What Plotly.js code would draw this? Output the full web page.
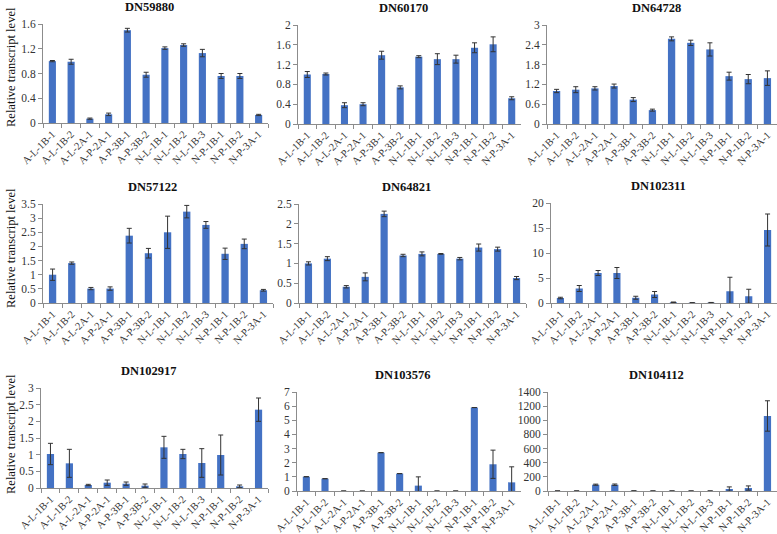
<!DOCTYPE html>
<html>
<head>
<meta charset="utf-8">
<script src="https://cdn.plot.ly/plotly-3.0.1.min.js"></script>
<style>html,body{margin:0;padding:0;background:#fff;}#chart{width:777px;height:534px;}</style>
</head>
<body>
<div id="chart"></div>
<script>
const categories = ["A-L-1B-1","A-L-1B-2","A-L-2A-1","A-P-2A-1","A-P-3B-1","A-P-3B-2","N-L-1B-1","N-L-1B-2","N-L-1B-3","N-P-1B-1","N-P-1B-2","N-P-3A-1"];

const geneNames = ["DN59880","DN60170","DN64728","DN57122","DN64821","DN102311","DN102917","DN103576","DN104112"];

const dn59880 = [1.00, 0.99, 0.07, 0.14, 1.50, 0.78, 1.21, 1.26, 1.13, 0.76, 0.76, 0.13];
const dn59880Err = [0.01, 0.04, 0.01, 0.02, 0.03, 0.04, 0.02, 0.02, 0.06, 0.04, 0.04, 0.01];

const dn60170 = [1.00, 1.01, 0.38, 0.40, 1.39, 0.74, 1.36, 1.31, 1.31, 1.54, 1.61, 0.52];
const dn60170Err = [0.06, 0.02, 0.05, 0.03, 0.08, 0.03, 0.02, 0.11, 0.08, 0.10, 0.15, 0.03];

const dn64728 = [1.00, 1.04, 1.08, 1.15, 0.74, 0.42, 2.58, 2.46, 2.26, 1.45, 1.36, 1.39];
const dn64728Err = [0.05, 0.09, 0.05, 0.06, 0.06, 0.03, 0.06, 0.08, 0.20, 0.12, 0.14, 0.22];

const dn57122 = [1.00, 1.41, 0.51, 0.51, 2.38, 1.76, 2.50, 3.23, 2.76, 1.74, 2.09, 0.45];
const dn57122Err = [0.20, 0.04, 0.04, 0.06, 0.26, 0.17, 0.57, 0.22, 0.12, 0.20, 0.17, 0.03];

const dn64821 = [1.00, 1.12, 0.41, 0.66, 2.25, 1.20, 1.24, 1.24, 1.12, 1.40, 1.36, 0.63];
const dn64821Err = [0.04, 0.05, 0.03, 0.10, 0.07, 0.03, 0.05, 0.01, 0.03, 0.09, 0.05, 0.04];

const dn102311 = [1.00, 2.90, 6.00, 6.00, 1.05, 1.70, 0.15, 0.05, 0.08, 2.35, 1.35, 14.6];
const dn102311Err = [0.15, 0.60, 0.50, 1.10, 0.30, 0.60, 0.05, 0.02, 0.03, 2.80, 1.40, 3.20];

const dn102917 = [1.02, 0.74, 0.09, 0.16, 0.13, 0.07, 1.22, 1.02, 0.75, 0.99, 0.05, 2.35];
const dn102917Err = [0.32, 0.42, 0.02, 0.08, 0.05, 0.05, 0.33, 0.14, 0.43, 0.60, 0.04, 0.35];

const dn103576 = [1.01, 0.87, 0, 0, 2.71, 1.23, 0.38, 0, 0, 5.90, 1.89, 0.61];
const dn103576Err = [0, 0, 0, 0, 0, 0, 0.62, 0, 0, 0, 1.00, 1.10];

const dn104112 = [1, 1, 89, 89, 2, 1, 1, 0.5, 0.5, 28, 42, 1061];
const dn104112Err = [0, 0, 8, 10, 0, 0, 0, 0, 0, 30, 30, 215];

const yRanges = [[0,1.6],[0,2],[0,3],[0,3.5],[0,2.5],[0,20],[0,3],[0,7],[0,1400]];
const yDtick = [0.4, 0.4, 0.6, 0.5, 0.5, 5, 0.5, 1, 200];

const seriesList = [dn59880, dn60170, dn64728, dn57122, dn64821, dn102311, dn102917, dn103576, dn104112];
const errList = [dn59880Err, dn60170Err, dn64728Err, dn57122Err, dn64821Err, dn102311Err, dn102917Err, dn103576Err, dn104112Err];

// panel pixel boxes [left, right, top, bottom]
const W = 777, H = 534;
const boxes = [
  [43, 268, 24, 123], [298, 521, 25, 124], [547, 777, 25, 124],
  [43, 273, 204, 303], [299, 526, 204, 303], [551, 777, 203, 303],
  [41, 268, 388, 488], [297, 521, 392, 491], [548, 777, 392, 491]
];
const yTitleCenters = [67, 248, 434];

const traces = [];
const layout = {
  width: W, height: H,
  margin: {l:0, r:0, t:0, b:0},
  paper_bgcolor: '#fff', plot_bgcolor: 'rgba(0,0,0,0)',
  showlegend: false,
  bargap: 0.62,
  font: {family: '"Liberation Serif", "Times New Roman", serif', color: '#222'},
  annotations: []
};

for (let i = 0; i < 9; i++) {
  const s = i === 0 ? '' : String(i + 1);
  traces.push({
    type: 'bar',
    x: categories,
    y: seriesList[i],
    xaxis: 'x' + s, yaxis: 'y' + s,
    marker: {color: '#4472C4', line: {width: 0}},
    error_y: {type: 'data', array: errList[i].map(v => v > 0 ? v : null), visible: true, color: '#333', thickness: 1, width: 2.5},
    hoverinfo: 'x+y'
  });
  const b = boxes[i];
  layout['xaxis' + s] = {
    domain: [b[0] / W, b[1] / W],
    anchor: 'y' + s,
    type: 'category',
    tickangle: -45,
    ticks: 'outside', ticklen: 4, tickcolor: '#8c8c8c', tickson: 'boundaries',
    showline: true, linecolor: '#8c8c8c', linewidth: 1,
    showgrid: false, zeroline: false,
    tickfont: {size: 10.5, color: '#333'},
    fixedrange: true
  };
  layout['yaxis' + s] = {
    domain: [1 - b[3] / H, 1 - b[2] / H],
    anchor: 'x' + s,
    range: yRanges[i],
    dtick: yDtick[i], tick0: 0,
    ticks: 'outside', ticklen: 4, tickcolor: '#8c8c8c',
    showline: true, linecolor: '#8c8c8c', linewidth: 1,
    showgrid: false, zeroline: false,
    tickfont: {size: 11.5, color: '#333'},
    fixedrange: true
  };
  layout.annotations.push({
    text: '<b>' + geneNames[i] + '</b>',
    xref: 'paper', yref: 'paper',
    x: ((b[0] + b[1]) / 2 - 6) / W,
    y: 1 - (b[2] - 8) / H,
    xanchor: 'center', yanchor: 'bottom',
    showarrow: false,
    font: {size: 12.5, color: '#111', family: '"Liberation Serif", "Times New Roman", serif'}
  });
  if (i % 3 === 0) {
    layout.annotations.push({
      text: 'Relative transcript level',
      xref: 'paper', yref: 'paper',
      x: 2 / W, y: 1 - yTitleCenters[i / 3] / H,
      xanchor: 'left', yanchor: 'middle',
      textangle: -90,
      showarrow: false,
      font: {size: 12.5, color: '#111', family: '"Liberation Serif", "Times New Roman", serif'}
    });
  }
}

Plotly.newPlot('chart', traces, layout, {staticPlot: true});
</script>
</body>
</html>
